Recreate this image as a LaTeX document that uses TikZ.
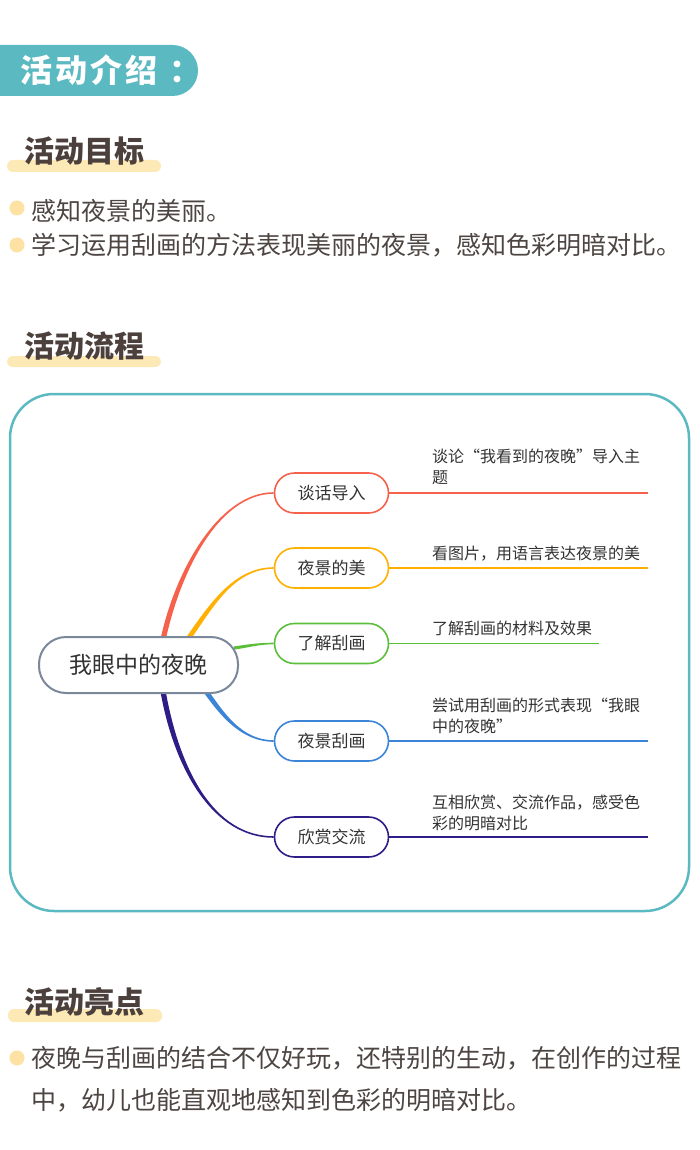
\documentclass[tikz,border=0pt]{standalone}
\usepackage{fontspec}
\setmainfont{Noto Sans CJK SC}
\usetikzlibrary{calc}
\definecolor{teal1}{HTML}{5BB9C1}
\definecolor{ybar}{HTML}{FDE9B6}
\definecolor{ydot}{HTML}{FDE2A4}
\definecolor{hd}{HTML}{4B403C}
\definecolor{bodyc}{HTML}{4D4542}
\definecolor{cred}{HTML}{F6614C}
\definecolor{corange}{HTML}{FFB000}
\definecolor{cgreen}{HTML}{5BBF3C}
\definecolor{cblue}{HTML}{3B84D8}
\definecolor{cindigo}{HTML}{2E1D86}
\definecolor{rootc}{HTML}{7B879B}
\definecolor{txt}{HTML}{333333}
\pgfdeclarelayer{bg}
\pgfsetlayers{bg,main}
% color, start coordinate, out angle, start length, end coordinate, end length, start half width
\newcommand\taper[7]{%
  \fill[#1] ($(#2)+(#3+90:#7)$) .. controls +(#3:#4) and +(180:#6) .. ($(#5)+(0,0.8)$)
    -- ($(#5)+(0,-0.8)$) .. controls +(180:#6) and +(#3:#4) .. ($(#2)+(#3-90:#7)$) -- cycle;}
\begin{document}
\begin{tikzpicture}[x=1pt,y=1pt,
  heading/.style={anchor=west, inner sep=0pt, text=hd, font=\bfseries\fontsize{30}{30}\selectfont},
  hbar/.style={fill=ybar, rounded corners=6pt},
  dot/.style={circle, fill=ydot, inner sep=0pt, minimum size=15pt},
  bodytext/.style={anchor=west, inner sep=0pt, text=bodyc, font=\fontsize{25}{25}\selectfont},
  rootbox/.style={draw=rootc, line width=2pt, rounded corners=27pt, fill=white,
    minimum width=199pt, minimum height=56pt, inner sep=0pt, text=txt, font=\fontsize{23}{23}\selectfont},
  branch/.style={draw=#1, line width=1.6pt, rounded corners=20pt, fill=white,
    minimum width=114pt, minimum height=40pt, inner sep=0pt, text=txt, font=\fontsize{17}{17}\selectfont},
  leaf/.style={anchor=base west, inner sep=0pt, text=txt, font=\fontsize{16}{21}\selectfont},
  leafline/.style={draw=#1, line width=1.5pt}]
\useasboundingbox (0,0) rectangle (700,-1150);

% title pill
\fill[teal1, rounded corners=25.5pt] (-40,-45) rectangle (198,-96);
\node[anchor=west, inner sep=0pt, text=white, font=\bfseries\fontsize{32}{32}\selectfont] (title) at (20,-70)
  {活\hspace{3pt}动\hspace{3pt}介\hspace{3pt}绍\hspace{12pt}：};

% section 1
\fill[hbar] (7,-160) rectangle (161,-172);
\node[heading] (h1) at (24,-151.5) {活动目标};
\node[dot] (d1) at (17,-208) {};
\node[bodytext] (t1) at (31,-211) {感知夜景的美丽。};
\node[dot] (d2) at (17,-245) {};
\node[bodytext] (t2) at (31,-245) {学习运用刮画的方法表现美丽的夜景，感知色彩明暗对比。};

% section 2
\fill[hbar] (7,-356) rectangle (161,-367);
\node[heading] (h2) at (24,-346.5) {活动流程};

% mind map frame
\draw[teal1, line width=2.5pt, rounded corners=44pt] (10,-394) rectangle (689,-911);

% mind map nodes
\node[rootbox] (root) at (138.5,-665) {我眼中的夜晚};
\node[branch=cred] (b1) at (331.5,-493) {谈话导入};
\node[branch=corange] (b2) at (331.5,-568) {夜景的美};
\node[branch=cgreen] (b3) at (331.5,-643.5) {了解刮画};
\node[branch=cblue] (b4) at (331.5,-741) {夜景刮画};
\node[branch=cindigo] (b5) at (331.5,-837) {欣赏交流};

\coordinate (s1) at (163,-640);
\coordinate (s2) at (188,-639);
\coordinate (s3) at (234,-648);
\coordinate (s4) at (205,-690);
\coordinate (s5) at (163,-691);
\coordinate (endx) at (648,0);
\coordinate (endg) at (599,0);

\begin{pgfonlayer}{bg}
  \fill[white] (0,0) rectangle (700,-1150);
  \taper{cred}{s1}{78}{70}{b1.west}{55}{2.6}
  \taper{corange}{s2}{55}{40}{b2.west}{40}{2.4}
  \taper{cgreen}{s3}{8}{15}{b3.west}{15}{1.6}
  \taper{cblue}{s4}{-55}{30}{b4.west}{32}{2.4}
  \taper{cindigo}{s5}{-80}{80}{b5.west}{60}{2.6}
\end{pgfonlayer}

\draw[leafline=cred] (b1.east) -- (b1.east -| endx);
\draw[leafline=corange] (b2.east) -- (b2.east -| endx);
\draw[leafline=cgreen] (b3.east) -- (b3.east -| endg);
\draw[leafline=cblue] (b4.east) -- (b4.east -| endx);
\draw[leafline=cindigo] (b5.east) -- (b5.east -| endx);

\node[leaf] (l1) at (432,-462) {\begin{tabular}[t]{@{}l@{}}谈论“我看到的夜晚”导入主\\题\end{tabular}};
\node[leaf] (l2) at (432,-559) {看图片，用语言表达夜景的美};
\node[leaf] (l3) at (432,-634) {了解刮画的材料及效果};
\node[leaf] (l4) at (432,-711) {\begin{tabular}[t]{@{}l@{}}尝试用刮画的形式表现“我眼\\中的夜晚”\end{tabular}};
\node[leaf] (l5) at (432,-808) {\begin{tabular}[t]{@{}l@{}}互相欣赏、交流作品，感受色\\彩的明暗对比\end{tabular}};

% section 3
\fill[hbar] (8,-1009) rectangle (162,-1022);
\node[heading] (h3) at (24,-1001.5) {活动亮点};
\node[dot] (d3) at (17,-1058) {};
\node[bodytext] (t3) at (31,-1058) {夜晚与刮画的结合不仅好玩，还特别的生动，在创作的过程};
\node[bodytext] (t4) at (31,-1100) {中，幼儿也能直观地感知到色彩的明暗对比。};
\end{tikzpicture}
\end{document}
